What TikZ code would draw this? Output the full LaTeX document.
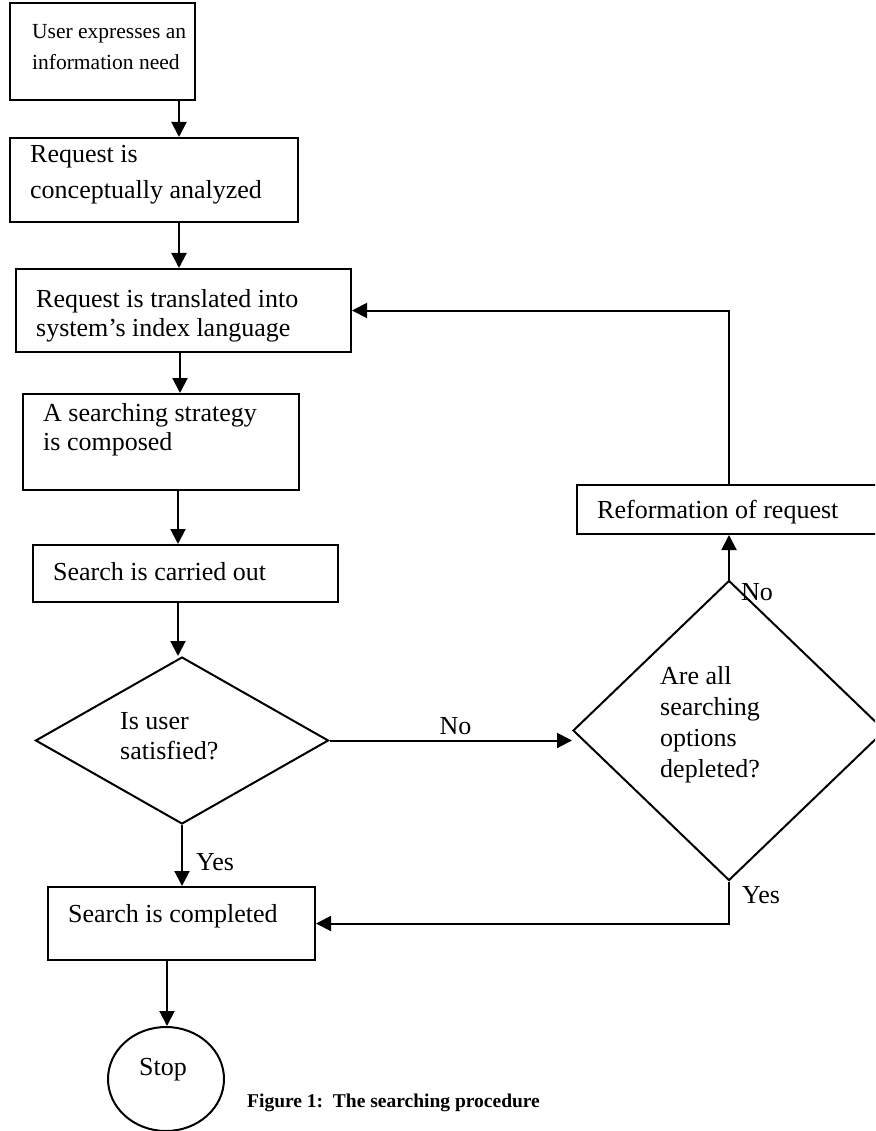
\documentclass[tikz,border=0pt]{standalone}
\usepackage{fontspec}
\setmainfont{Liberation Serif}
\usetikzlibrary{arrows.meta,shapes.geometric,calc}
\begin{document}
\begin{tikzpicture}[x=1pt,y=-1pt,
  box/.style={draw, line width=2pt, inner sep=0pt, rectangle, anchor=north west},
  dia/.style={draw, diamond, line width=2pt, inner sep=0pt},
  txt/.style={anchor=base west, inner sep=0pt, align=left, font=\fontsize{26}{30}\selectfont},
  lbl/.style={anchor=base west, inner sep=0pt, font=\fontsize{26}{30}\selectfont},
  arr/.style={line width=2pt, -{Triangle[length=15pt,width=15pt]}}]
\useasboundingbox (0,0) rectangle (875,1131);
\clip (0,0) rectangle (875,1131);
% boxes
\node[box, minimum width=185pt, minimum height=97pt] (b1) at (9,2) {};
\node[box, minimum width=288pt, minimum height=84pt] (b2) at (9,137) {};
\node[box, minimum width=335pt, minimum height=83pt] (b3) at (15,268) {};
\node[box, minimum width=276pt, minimum height=96pt] (b4) at (22,393) {};
\node[box, minimum width=305pt, minimum height=57pt] (b5) at (32,544) {};
\node[dia, minimum width=293pt, minimum height=167pt] (d1) at (182,740.5) {};
\node[box, minimum width=267pt, minimum height=73pt] (b6) at (47,886) {};
\node[draw, ellipse, line width=2pt, inner sep=0pt, minimum width=116pt, minimum height=104pt] (stop) at (166,1079) {};
\node[box, minimum width=330pt, minimum height=49pt] (rf) at (576,484) {};
\node[dia, minimum width=312pt, minimum height=300pt] (d2) at (729,730.5) {};
% texts (base anchor = baseline of the last line)
\node[txt, font=\fontsize{21.5}{31}\selectfont] (t1) at (32,70) {User expresses an\\information need};
\node[txt] (t2) at (30,199) {Request is\\[6pt]conceptually analyzed};
\node[txt] (t3) at (36,336) {Request is translated into\\[-1pt]system’s index language};
\node[txt] (t4) at (43,450) {A searching strategy\\[-1pt]is composed};
\node[txt] (t5) at (53,580) {Search is carried out};
\node[txt] (t6) at (120,759) {Is user\\satisfied?};
\node[txt] (t7) at (68,922) {Search is completed};
\node[txt] (t8) at (139,1075) {Stop};
\node[txt] (t9) at (597,518) {Reformation of request};
\node[txt, font=\fontsize{26}{30.7}\selectfont] (t10) at (660,777) {Are all\\searching\\options\\depleted?};
\node[anchor=base west, inner sep=0pt, font=\bfseries\fontsize{19.5}{23}\selectfont] (cap) at (247,1107) {Figure 1:\ \ The searching procedure};
% connectors
\draw[arr] ([xshift=76.5pt]b1.south) -- ([xshift=25pt]b2.north);
\draw[arr] ([xshift=25pt]b2.south) -- ([xshift=-4.5pt]b3.north);
\draw[arr] ([xshift=-3.5pt]b3.south) -- ([xshift=19pt]b4.north);
\draw[arr] ([xshift=17pt]b4.south) -- ([xshift=-7.5pt]b5.north);
\draw[arr] ([xshift=-7.5pt]b5.south) -- ([xshift=-7.5pt]b5.south |- d1.north);
\draw[arr] (d1.south) -- (d1.south |- b6.north);
\draw[arr] ([xshift=-14.5pt]b6.south) -- ([xshift=-14.5pt]b6.south |- stop.north);
\draw[arr] (d1.east) -- (d1.east -| d2.west) node[lbl, pos=0.52, anchor=base, yshift=6pt] (no1) {No};
\draw[arr] (d2.north) -- (d2.north |- rf.south);
\draw[arr] (rf.north -| d2.north) |- (b3.east);
\draw[arr] (d2.south) |- (b6.east);
% labels
\node[lbl] (no2) at (741,600) {No};
\node[lbl] (yes1) at (196,870) {Yes};
\node[lbl] (yes2) at (742,903) {Yes};
\end{tikzpicture}
\end{document}
